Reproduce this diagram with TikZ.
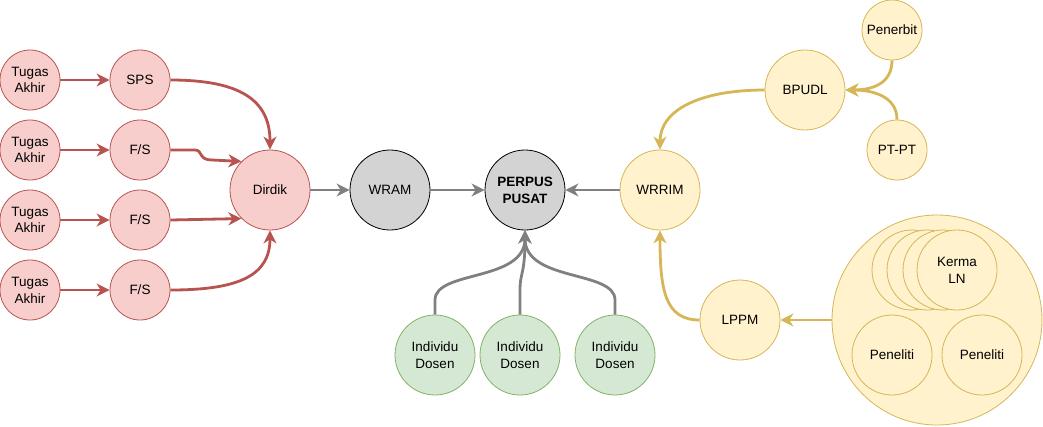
\documentclass[tikz,border=0pt]{standalone}
\usepackage{fontspec}
\setmainfont{Liberation Sans}
\usetikzlibrary{arrows.meta}
\definecolor{rfill}{HTML}{F8CECC}
\definecolor{rline}{HTML}{B85450}
\definecolor{gfill}{HTML}{D5E8D4}
\definecolor{gline}{HTML}{82B366}
\definecolor{yfill}{HTML}{FFF2CC}
\definecolor{yline}{HTML}{D6B656}
\definecolor{kfill}{HTML}{D3D3D3}
\definecolor{karrow}{HTML}{808080}
\begin{document}
\begin{tikzpicture}[x=1pt,y=-1pt,
  every node/.style={font=\fontsize{13.5}{16.7}\selectfont, align=center},
  circ/.style={circle, inner sep=0pt, line width=0.8pt},
  small/.style={circ, minimum size=60pt},
  big/.style={circ, minimum size=80pt},
  red/.style={draw=rline, fill=rfill},
  grn/.style={draw=gline, fill=gfill},
  yel/.style={draw=yline, fill=yfill},
  gry/.style={draw=black, fill=kfill},
  tip/.style={-{Stealth[length=13pt,width=13pt,inset=4pt]}},
  rarr/.style={draw=rline, line width=2.8pt, tip},
  karr/.style={draw=karrow, line width=2.8pt, tip},
  yarr/.style={draw=yline, line width=2.8pt, tip},
]
\useasboundingbox (0,0) rectangle (1043,426);
% left
\node[small,red] (ta1) at (30,80) {Tugas\\Akhir};
\node[small,red] (ta2) at (30,150) {Tugas\\Akhir};
\node[small,red] (ta3) at (30,220) {Tugas\\Akhir};
\node[small,red] (ta4) at (30,290) {Tugas\\Akhir};
\node[small,red] (sps) at (140,80) {SPS};
\node[small,red] (fs1) at (140,150) {F/S};
\node[small,red] (fs2) at (140,220) {F/S};
\node[small,red] (fs3) at (140,290) {F/S};
\node[big,red] (dirdik) at (270,190) {Dirdik};
\node[big,gry] (wram) at (390,190) {WRAM};
\node[big,gry] (perpus) at (525,190) {\bfseries PERPUS\\\bfseries PUSAT};
\node[big,yel] (wrrim) at (660,190) {WRRIM};
\node[big,grn] (ind1) at (435,355) {Individu\\Dosen};
\node[big,grn] (ind2) at (520,355) {Individu\\Dosen};
\node[big,grn] (ind3) at (615,355) {Individu\\Dosen};
\node[big,yel] (bpudl) at (805,90) {BPUDL};
\node[small,yel] (penerbit) at (892,30) {Penerbit};
\node[small,yel] (ptpt) at (897,150) {PT-PT};
\node[big,yel] (lppm) at (740,320) {LPPM};
\node[circ,yel,minimum size=210pt] (bigc) at (937,320) {};
\node[big,yel] (k1) at (912,270) {};
\node[big,yel] (k2) at (927,270) {};
\node[big,yel] (k3) at (943,270) {};
\node[big,yel] (kerma) at (957,270) {Kerma\\LN};
\node[big,yel] (pen1) at (892,355) {Peneliti};
\node[big,yel] (pen2) at (982,355) {Peneliti};
% red arrows
\draw[rarr] (ta1) -- (sps);
\draw[rarr] (ta2) -- (fs1);
\draw[rarr] (ta3) -- (fs2);
\draw[rarr] (ta4) -- (fs3);
\draw[rarr] (sps.east) .. controls (240,80) and (270,100) .. (dirdik.north);
\draw[rarr] (fs1.east) -- (195,150) .. controls (203,150) and (198,160) .. (212,160) -- (dirdik.135);
\draw[rarr] (fs2.east) -- (dirdik.-135);
\draw[rarr] (fs3.east) .. controls (240,290) and (270,275) .. (dirdik.south);
% gray arrows
\draw[karr] (dirdik) -- (wram);
\draw[karr] (wram) -- (perpus);
\draw[karr] (wrrim) -- (perpus);
\draw[karr] (ind1.north) -- (435,300) .. controls (435,270) and (525,282) .. (perpus.south);
\draw[karr] (ind2.north) -- (520,290) .. controls (520,272) and (525,275) .. (perpus.south);
\draw[karr] (ind3.north) -- (615,300) .. controls (615,270) and (525,282) .. (perpus.south);
% yellow arrows
\draw[yarr] (bpudl.west) .. controls (700,90) and (660,110) .. (wrrim.north);
\draw[yarr] (penerbit.south) .. controls (892,85) and (870,90) .. (bpudl.east);
\draw[yarr] (ptpt.north) .. controls (897,95) and (870,90) .. (bpudl.east);
\draw[yarr] (lppm.west) .. controls (665,320) and (660,290) .. (wrrim.south);
\draw[yarr] (bigc.west) -- (lppm.east);
\end{tikzpicture}
\end{document}
